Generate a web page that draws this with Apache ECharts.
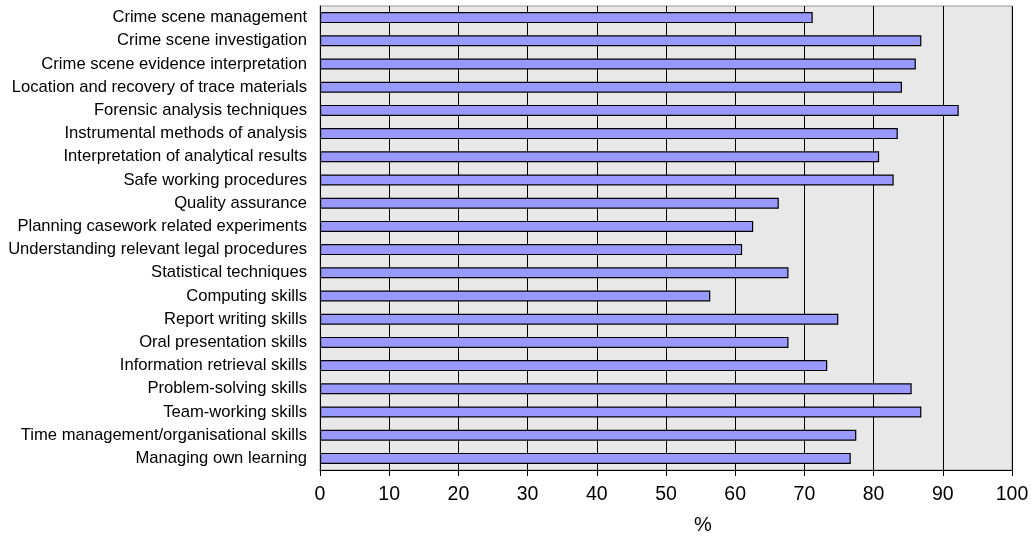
<!DOCTYPE html>
<html>
<head>
<meta charset="utf-8">
<script src="https://cdn.jsdelivr.net/npm/echarts@6/dist/echarts.min.js"></script>
<style>
  html, body { margin: 0; padding: 0; background: #ffffff; }
  #chart { width: 1033px; height: 539px; }
</style>
</head>
<body>
<div id="chart"></div>
<script>
// Skills rated as important (% of respondents)
const skills = [
  'Crime scene management',
  'Crime scene investigation',
  'Crime scene evidence interpretation',
  'Location and recovery of trace materials',
  'Forensic analysis techniques',
  'Instrumental methods of analysis',
  'Interpretation of analytical results',
  'Safe working procedures',
  'Quality assurance',
  'Planning casework related experiments',
  'Understanding relevant legal procedures',
  'Statistical techniques',
  'Computing skills',
  'Report writing skills',
  'Oral presentation skills',
  'Information retrieval skills',
  'Problem-solving skills',
  'Team-working skills',
  'Time management/organisational skills',
  'Managing own learning'
];

const percentages = [
  71.2, 86.9, 86.1, 84.1, 92.3, 83.5, 80.8, 82.9, 66.3, 62.6,
  61.0, 67.7, 56.4, 74.9, 67.7, 73.3, 85.5, 86.9, 77.5, 76.7
];

const axisTitle = '%';

const font = '"Liberation Sans", Arial, sans-serif';

const chart = echarts.init(document.getElementById('chart'), null, { renderer: 'canvas' });

chart.setOption({
  animation: false,
  backgroundColor: '#ffffff',
  grid: {
    left: 320,
    right: 21,
    top: 6,
    bottom: 69,
    show: true,
    backgroundColor: '#e8e8e8',
    borderColor: '#999999',
    borderWidth: 1
  },
  xAxis: {
    type: 'value',
    min: 0,
    max: 100,
    interval: 10,
    axisLine: { show: true, lineStyle: { color: '#000000', width: 1 } },
    axisTick: { show: true, length: 6, lineStyle: { color: '#000000' } },
    axisLabel: {
      color: '#000000',
      fontFamily: font,
      fontSize: 19.5,
      margin: 15
    },
    splitLine: { show: true, lineStyle: { color: '#000000', width: 1 } }
  },
  yAxis: {
    type: 'category',
    data: skills,
    inverse: true,
    axisLine: { show: true, lineStyle: { color: '#000000', width: 1 } },
    axisTick: { show: false },
    axisLabel: {
      color: '#000000',
      fontFamily: font,
      fontSize: 16.6,
      margin: 13
    },
    splitLine: { show: false }
  },
  graphic: [{
    type: 'text',
    x: 703,
    y: 525,
    style: {
      text: axisTitle,
      fill: '#000000',
      font: '20px ' + font,
      textAlign: 'center',
      textVerticalAlign: 'middle'
    }
  }],
  series: [{
    type: 'bar',
    data: percentages,
    barWidth: 11,
    itemStyle: {
      color: '#9999ff',
      borderColor: '#000000',
      borderWidth: 1.2
    }
  }]
});
</script>
</body>
</html>
